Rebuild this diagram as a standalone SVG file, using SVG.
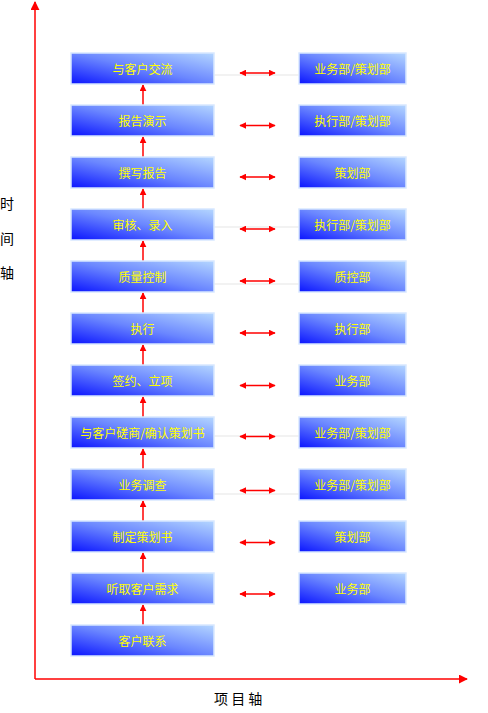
<svg xmlns="http://www.w3.org/2000/svg" width="488" height="713" viewBox="0 0 488 713">
<defs>
<linearGradient id="g" x1="0" y1="1" x2="1" y2="0">
<stop offset="0" stop-color="#0a14ff"/>
<stop offset="0.5" stop-color="#6a86ff"/>
<stop offset="1" stop-color="#b4d6ff"/>
</linearGradient>
<marker id="ah" viewBox="0 0 10 10" refX="9" refY="5" markerWidth="7" markerHeight="7" markerUnits="userSpaceOnUse" orient="auto-start-reverse">
<path d="M0,0 L10,5 L0,10 z" fill="#ff0000"/>
</marker>
<marker id="ax" viewBox="0 0 10 10" refX="9" refY="5" markerWidth="9" markerHeight="9" markerUnits="userSpaceOnUse" orient="auto">
<path d="M0,0 L10,5 L0,10 z" fill="#ff0000"/>
</marker>
</defs>
<style>
.box{fill:url(#g);stroke:#d8e8ff;stroke-width:1.5}
.t{font-family:"Noto Sans CJK SC","Liberation Sans",sans-serif;font-size:12px;fill:#ffff00;text-anchor:middle;dominant-baseline:central}
.lab{font-family:"Noto Sans CJK SC","Liberation Sans",sans-serif;font-size:14px;fill:#000}
.red{stroke:#ff0000;stroke-width:1.5;fill:none}
.gray{stroke:#e6e6e6;stroke-width:1.2}
</style>
<g id="connectors">
<line class="gray" x1="214" y1="75" x2="299" y2="75"/>
<line class="gray" x1="214" y1="227" x2="299" y2="227"/>
<line class="gray" x1="214" y1="284" x2="299" y2="284"/>
<line class="gray" x1="214" y1="436" x2="299" y2="436"/>
<line class="gray" x1="214" y1="494" x2="299" y2="494"/>
<line class="red" x1="35" y1="679" x2="35" y2="2" marker-end="url(#ax)"/>
<line class="red" x1="35" y1="679" x2="467" y2="679" marker-end="url(#ax)"/>
<line class="red" x1="143" y1="105" x2="143" y2="85" marker-end="url(#ah)"/>
<line class="red" x1="143" y1="157" x2="143" y2="137" marker-end="url(#ah)"/>
<line class="red" x1="143" y1="209" x2="143" y2="189" marker-end="url(#ah)"/>
<line class="red" x1="143" y1="261" x2="143" y2="241" marker-end="url(#ah)"/>
<line class="red" x1="143" y1="313" x2="143" y2="293" marker-end="url(#ah)"/>
<line class="red" x1="143" y1="365" x2="143" y2="345" marker-end="url(#ah)"/>
<line class="red" x1="143" y1="417" x2="143" y2="397" marker-end="url(#ah)"/>
<line class="red" x1="143" y1="469" x2="143" y2="449" marker-end="url(#ah)"/>
<line class="red" x1="143" y1="521" x2="143" y2="501" marker-end="url(#ah)"/>
<line class="red" x1="143" y1="573" x2="143" y2="553" marker-end="url(#ah)"/>
<line class="red" x1="143" y1="625" x2="143" y2="605" marker-end="url(#ah)"/>
<line class="red" x1="240" y1="73" x2="275" y2="73" marker-start="url(#ah)" marker-end="url(#ah)"/>
<line class="red" x1="240" y1="125.5" x2="275" y2="125.5" marker-start="url(#ah)" marker-end="url(#ah)"/>
<line class="red" x1="240" y1="177" x2="275" y2="177" marker-start="url(#ah)" marker-end="url(#ah)"/>
<line class="red" x1="240" y1="229" x2="275" y2="229" marker-start="url(#ah)" marker-end="url(#ah)"/>
<line class="red" x1="240" y1="281" x2="275" y2="281" marker-start="url(#ah)" marker-end="url(#ah)"/>
<line class="red" x1="240" y1="333" x2="275" y2="333" marker-start="url(#ah)" marker-end="url(#ah)"/>
<line class="red" x1="240" y1="385.5" x2="275" y2="385.5" marker-start="url(#ah)" marker-end="url(#ah)"/>
<line class="red" x1="240" y1="436.5" x2="275" y2="436.5" marker-start="url(#ah)" marker-end="url(#ah)"/>
<line class="red" x1="240" y1="490.5" x2="275" y2="490.5" marker-start="url(#ah)" marker-end="url(#ah)"/>
<line class="red" x1="240" y1="542.5" x2="275" y2="542.5" marker-start="url(#ah)" marker-end="url(#ah)"/>
<line class="red" x1="240" y1="594" x2="275" y2="594" marker-start="url(#ah)" marker-end="url(#ah)"/>
</g>
<g id="L1"><rect class="box" x="71" y="53" width="143" height="31"/><text class="t" x="142.5" y="68.5">与客户交流</text></g>
<g id="L2"><rect class="box" x="71" y="105" width="143" height="31"/><text class="t" x="142.5" y="120.5">报告演示</text></g>
<g id="L3"><rect class="box" x="71" y="157" width="143" height="31"/><text class="t" x="142.5" y="172.5">撰写报告</text></g>
<g id="L4"><rect class="box" x="71" y="209" width="143" height="31"/><text class="t" x="142.5" y="224.5">审核、录入</text></g>
<g id="L5"><rect class="box" x="71" y="261" width="143" height="31"/><text class="t" x="142.5" y="276.5">质量控制</text></g>
<g id="L6"><rect class="box" x="71" y="313" width="143" height="31"/><text class="t" x="142.5" y="328.5">执行</text></g>
<g id="L7"><rect class="box" x="71" y="365" width="143" height="31"/><text class="t" x="142.5" y="380.5">签约、立项</text></g>
<g id="L8"><rect class="box" x="71" y="417" width="143" height="31"/><text class="t" x="142.5" y="432.5">与客户磋商/确认策划书</text></g>
<g id="L9"><rect class="box" x="71" y="469" width="143" height="31"/><text class="t" x="142.5" y="484.5">业务调查</text></g>
<g id="L10"><rect class="box" x="71" y="521" width="143" height="31"/><text class="t" x="142.5" y="536.5">制定策划书</text></g>
<g id="L11"><rect class="box" x="71" y="573" width="143" height="31"/><text class="t" x="142.5" y="588.5">听取客户需求</text></g>
<g id="L12"><rect class="box" x="71" y="625" width="143" height="31"/><text class="t" x="142.5" y="640.5">客户联系</text></g>
<g id="R1"><rect class="box" x="299" y="53" width="107" height="31"/><text class="t" x="352.5" y="68.5">业务部/策划部</text></g>
<g id="R2"><rect class="box" x="299" y="105" width="107" height="31"/><text class="t" x="352.5" y="120.5">执行部/策划部</text></g>
<g id="R3"><rect class="box" x="299" y="157" width="107" height="31"/><text class="t" x="352.5" y="172.5">策划部</text></g>
<g id="R4"><rect class="box" x="299" y="209" width="107" height="31"/><text class="t" x="352.5" y="224.5">执行部/策划部</text></g>
<g id="R5"><rect class="box" x="299" y="261" width="107" height="31"/><text class="t" x="352.5" y="276.5">质控部</text></g>
<g id="R6"><rect class="box" x="299" y="313" width="107" height="31"/><text class="t" x="352.5" y="328.5">执行部</text></g>
<g id="R7"><rect class="box" x="299" y="365" width="107" height="31"/><text class="t" x="352.5" y="380.5">业务部</text></g>
<g id="R8"><rect class="box" x="299" y="417" width="107" height="31"/><text class="t" x="352.5" y="432.5">业务部/策划部</text></g>
<g id="R9"><rect class="box" x="299" y="469" width="107" height="31"/><text class="t" x="352.5" y="484.5">业务部/策划部</text></g>
<g id="R10"><rect class="box" x="299" y="521" width="107" height="31"/><text class="t" x="352.5" y="536.5">策划部</text></g>
<g id="R11"><rect class="box" x="299" y="573" width="107" height="31"/><text class="t" x="352.5" y="588.5">业务部</text></g>
<g id="axis-labels">
<text class="lab" x="0" y="209">时</text>
<text class="lab" x="0" y="244">间</text>
<text class="lab" x="0" y="278">轴</text>
<text class="lab" x="214" y="704">项 目 轴</text>
</g>
</svg>
